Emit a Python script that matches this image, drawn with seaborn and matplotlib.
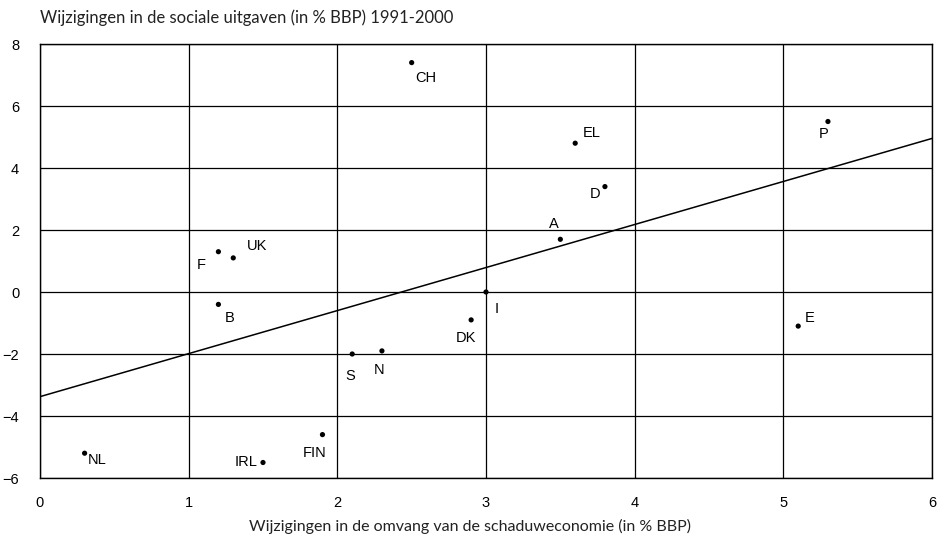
import seaborn as sns
import matplotlib.pyplot as plt
import pandas as pd

# data
countries = ["CH", "EL", "P", "D", "A", "F", "UK", "B", "I", "DK",
             "S", "N", "E", "NL", "IRL", "FIN"]
shadow_change = [2.5, 3.6, 5.3, 3.8, 3.5, 1.2, 1.3, 1.2, 3.0, 2.9,
                 2.1, 2.3, 5.1, 0.3, 1.5, 1.9]
social_change = [7.4, 4.8, 5.5, 3.4, 1.7, 1.3, 1.1, -0.4, 0.0, -0.9,
                 -2.0, -1.9, -1.1, -5.2, -5.5, -4.6]
x_ticks = [0, 1, 2, 3, 4, 5, 6]
y_ticks = [-6, -4, -2, 0, 2, 4, 6, 8]

# label placement (offset in pixels, horizontal alignment)
label_pos = {
    "CH": (4, -15, "left"), "EL": (8, 10, "left"), "P": (-4, -12, "center"),
    "D": (-5, -7, "right"), "A": (-6, 15, "center"), "F": (-17, -13, "center"),
    "UK": (14, 12, "left"), "B": (6, -14, "left"), "I": (9, -17, "left"),
    "DK": (-5, -18, "center"), "S": (-2, -22, "center"), "N": (-3, -19, "center"),
    "E": (7, 8, "left"), "NL": (3, -7, "left"), "IRL": (-6, 0, "right"),
    "FIN": (-8, -18, "center"),
}

df = pd.DataFrame({"land": countries, "x": shadow_change, "y": social_change})

sns.set_style("white")
plt.rcParams["font.family"] = ["Liberation Sans", "DejaVu Sans"]

fig = plt.figure(figsize=(9.4, 5.46), dpi=100)
ax = fig.add_axes([40 / 940, 1 - 478 / 546, 892 / 940, 434 / 546])
ax.set_xlim(0, 6)
ax.set_ylim(-6, 8)

sns.regplot(data=df, x="x", y="y", ax=ax, scatter=False, ci=None,
            truncate=False, line_kws={"color": "black", "linewidth": 1.1})
sns.scatterplot(data=df, x="x", y="y", ax=ax, color="black", s=14,
                edgecolor="none", zorder=3)

for _, r in df.iterrows():
    dx, dy, ha = label_pos[r["land"]]
    ax.annotate(r["land"], (r["x"], r["y"]), xytext=(dx, dy),
                textcoords="offset pixels", ha=ha, va="center",
                fontsize=10.5, color="black", family=["Liberation Sans", "DejaVu Sans"])

ax.set_xticks(x_ticks)
ax.set_yticks(y_ticks)
ax.grid(True, color="black", linewidth=0.9)
ax.set_axisbelow(True)
for sp in ax.spines.values():
    sp.set_color("black")
    sp.set_linewidth(1.0)
ax.tick_params(length=0, labelsize=10.5, colors="black")
ax.tick_params(axis="y", pad=15)
ax.tick_params(axis="x", pad=13)
for lab in ax.get_xticklabels() + ax.get_yticklabels():
    lab.set_family(["Liberation Sans", "DejaVu Sans"])
ax.set_xlabel("")
ax.set_ylabel("")

fig.text(40 / 940, 1 - 18 / 546, "Wijzigingen in de sociale uitgaven (in % BBP) 1991-2000",
         ha="left", va="center", fontsize=12, family=["Lato", "DejaVu Sans"], color="#222222")
fig.text(470 / 940, 1 - 526 / 546, "Wijzigingen in de omvang van de schaduweconomie (in % BBP)",
         ha="center", va="center", fontsize=11.5, family=["Lato", "DejaVu Sans"], color="#222222")

fig.savefig("out.png", dpi=100)
